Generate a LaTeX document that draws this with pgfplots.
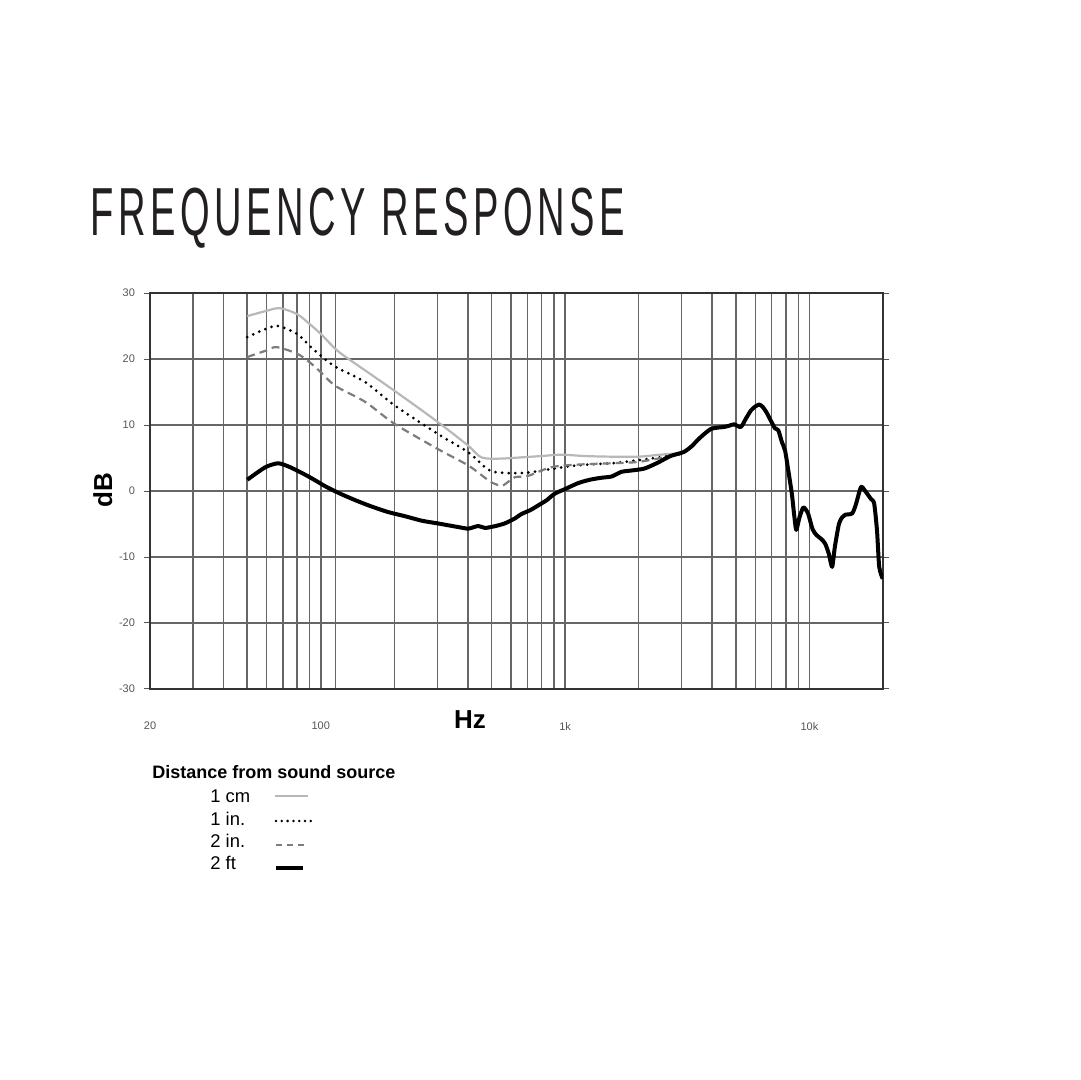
\documentclass[border=0pt]{standalone}
\usepackage{pgfplots}
\pgfplotsset{compat=1.18}
\usepackage{pgfplotstable}
\usepackage{fontspec}
\usepackage{graphicx}
\setmainfont{Liberation Sans}
\newfontfamily\titlefont[LetterSpace=12]{Liberation Sans}
\definecolor{gridc}{HTML}{666666}
\definecolor{axisc}{HTML}{333333}
\definecolor{tickc}{HTML}{555555}
\definecolor{titlec}{HTML}{231F20}
\definecolor{cmc}{HTML}{B8B8B8}
\definecolor{twoinc}{HTML}{7D7D7D}
\pgfplotstableread{
f db
50 1.7
55 2.8
60 3.7
67 4.2
75 3.6
87 2.4
95 1.6
104.5 0.7
120 -0.4
138.6 -1.4
160 -2.3
189 -3.2
220 -3.8
259 -4.5
300 -4.9
333 -5.2
370 -5.5
402 -5.7
441 -5.3
470 -5.6
520 -5.3
567 -4.9
620 -4.2
662 -3.5
720 -2.9
775 -2.2
840 -1.4
907 -0.4
1000 0.3
1131 1.2
1260 1.7
1402 2.0
1550 2.2
1699 2.9
1863 3.1
2110 3.4
2397 4.3
2700 5.3
3056 5.9
3300 6.8
3481 7.7
3700 8.6
3950 9.4
4200 9.6
4470 9.7
4700 9.9
4915 10.1
5235 9.7
5500 11.0
5760 12.2
6000 12.8
6240 13.1
6450 12.7
6675 11.9
7005 10.4
7220 9.5
7455 9.2
7700 7.5
7950 6.1
8200 3.0
8470 -0.4
8650 -3.5
8830 -5.9
9100 -4.0
9420 -2.5
9650 -2.8
9890 -3.5
10300 -5.8
10700 -6.7
11200 -7.3
11600 -8.0
12000 -9.5
12380 -11.5
12700 -8.5
13200 -5.0
13600 -4.0
14000 -3.6
14950 -3.4
15500 -2.0
16250 0.6
16900 0.0
17850 -1.2
18400 -1.9
18900 -6.0
19300 -11.5
19950 -13.3
}\twoft
\pgfplotstableread{
f db
50 26.5
60 27.3
68 27.7
80 26.8
90 25.3
100 23.8
115 21.5
130 20.0
200 15.2
300 10.5
400 6.9
454 5.1
533 4.9
605 5.0
800 5.3
967 5.5
1200 5.3
1549 5.2
1985 5.2
2300 5.4
2630 5.6
2950 5.7
}\onecm
\pgfplotstableread{
f db
50 23.3
60 24.6
67 25.0
80 23.8
90 22.0
100 20.5
115 18.8
152 16.5
200 13.0
300 8.7
400 5.9
470 3.6
500 3.0
540 2.8
605 2.7
706 2.8
831 3.2
1131 3.9
1549 4.2
1926 4.6
2550 5.2
2950 5.6
}\onein
\pgfplotstableread{
f db
50 20.3
60 21.3
66 21.8
80 20.8
90 19.5
100 18.0
115 15.9
152 13.5
200 10.2
300 6.4
400 3.9
470 2.0
500 1.3
550 0.8
590 1.5
623 2.1
706 2.3
877 3.6
1131 4.0
1549 4.2
1985 4.4
2550 5.1
2950 5.5
}\twoin
\newcommand\px[2]{([shift={({(#1-150)*0.5pt},{(689-#2)*0.5pt})}]sw)}
\begin{document}
\begin{tikzpicture}
\begin{axis}[
  xmode=log, xmin=20, xmax=20000, ymin=-30, ymax=30,
  scale only axis, width=366.5pt, height=198pt,
  xtick={20,100,1000,10000}, xticklabels={20,100,1k,10k},
  minor xtick={30,40,50,60,70,80,90,115,200,300,400,500,600,700,800,900,2000,3000,4000,5000,6000,7000,8000,9000},
  ytick={-30,-20,-10,0,10,20,30}, yticklabels={-30,-20,-10,0,10,20,30},
  xmajorgrids, xminorgrids, ymajorgrids,
  major grid style={draw=gridc, line width=0.75pt},
  minor grid style={draw=gridc, line width=0.75pt},
  axis line style={draw=axisc, line width=1.1pt},
  tick align=outside, major tick length=3pt, minor tick length=0pt,
  xtick style={draw=none},
  ytick style={draw=tickc, line width=0.5pt},
  /pgf/number format/assume math mode=true,
  ticklabel style={font=\fontsize{5.5}{6}\selectfont, text=tickc},
  xticklabel style={yshift=-10pt},
  yticklabel style={xshift=-1pt},
]
\coordinate (sw) at (rel axis cs:0,0);
\addplot[cmc, line width=1.1pt, smooth] table[x=f, y=db] {\onecm};
\addplot[black, line width=1.5pt, line cap=round, dash pattern=on 0pt off 3.3pt, smooth] table[x=f, y=db] {\onein};
\addplot[twoinc, line width=1.1pt, dash pattern=on 4pt off 2.5pt, smooth] table[x=f, y=db] {\twoin};
\addplot[black, line width=2pt, line join=round, smooth, tension=0.4] table[x=f, y=db] {\twoft};
\end{axis}
\node[anchor=base west, inner sep=0, text=titlec, font=\titlefont\fontsize{34}{34}\selectfont] at \px{90}{236} {\scalebox{0.56}[1]{FREQUENCY RESPONSE}};
\node[anchor=base, inner sep=0, font=\bfseries\fontsize{13}{13}\selectfont] at \px{470}{729} {Hz};
\node[anchor=base, inner sep=0, rotate=90, font=\bfseries\fontsize{13}{13}\selectfont] at \px{112}{490} {dB};
\node[anchor=base west, inner sep=0, font=\bfseries\fontsize{9}{9}\selectfont] at \px{152}{779} {Distance from sound source};
\node[anchor=base west, inner sep=0, font=\fontsize{9.2}{9}\selectfont] at \px{210}{802} {1 cm};
\node[anchor=base west, inner sep=0, font=\fontsize{9.2}{9}\selectfont] at \px{210}{825} {1 in.};
\node[anchor=base west, inner sep=0, font=\fontsize{9.2}{9}\selectfont] at \px{210}{847} {2 in.};
\node[anchor=base west, inner sep=0, font=\fontsize{9.2}{9}\selectfont] at \px{210}{869} {2 ft};
\draw[cmc, line width=1pt] \px{275}{796} -- \px{308}{796};
\draw[black, line width=1.4pt, line cap=round, dash pattern=on 0pt off 2.9pt] \px{276}{821} -- \px{312}{821};
\draw[twoinc, line width=1pt, dash pattern=on 3pt off 2.5pt] \px{276}{845} -- \px{307}{845};
\draw[black, line width=2pt] \px{276}{868} -- \px{303}{868};
\path[use as bounding box] \px{0}{0} rectangle \px{1080}{1080};
\end{tikzpicture}
\end{document}
